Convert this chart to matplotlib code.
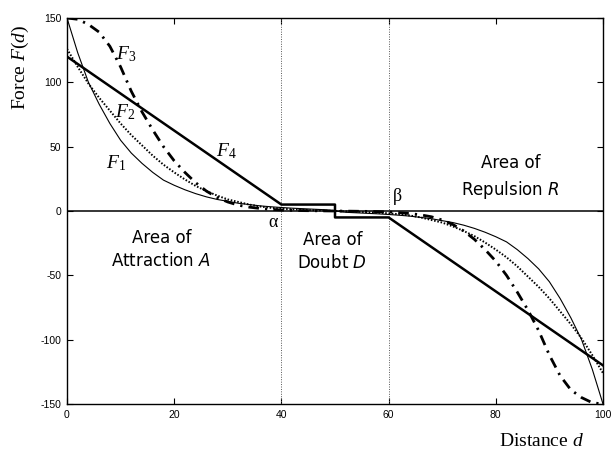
import matplotlib
matplotlib.use("Agg")
import matplotlib.pyplot as plt

plt.rcParams['mathtext.fontset'] = 'custom'
plt.rcParams['mathtext.rm'] = 'Liberation Serif'
plt.rcParams['mathtext.it'] = 'Liberation Serif:italic'
plt.rcParams['mathtext.sf'] = 'DejaVu Sans:italic'
plt.rcParams['axes.unicode_minus'] = False

# distance grid (read every 2 units)
d = [0, 2, 4, 6, 8, 10, 12, 14, 16, 18, 20, 22, 24, 26, 28, 30, 32, 34, 36, 38, 40,
     42, 44, 46, 48, 50, 52, 54, 56, 58, 60, 62, 64, 66, 68, 70, 72, 74, 76, 78, 80,
     82, 84, 86, 88, 90, 92, 94, 96, 98, 100]

F1 = [150, 123, 100, 83, 68, 55, 45, 37, 30, 24, 20, 16.5, 13.5, 11, 9, 7.5, 6, 5, 4, 3.3, 2.7,
      2.2, 1.8, 1.4, 1, 0, -1, -1.4, -1.8, -2.2, -2.7, -3.3, -4, -5, -6, -7.5, -9, -11, -13.5,
      -16.5, -20, -24, -30, -37, -45, -55, -68, -83, -100, -123, -150]
F2 = [126, 112, 99, 88, 78, 68, 59, 51, 43, 36, 30, 24.5, 19.5, 15.5, 12, 9, 7, 5, 3.5, 2.5, 1.8,
      1.3, 0.9, 0.6, 0.3, 0, -0.3, -0.6, -0.9, -1.3, -1.8, -2.5, -3.5, -5, -7, -9, -12, -15.5,
      -19.5, -24.5, -30, -36, -43, -51, -59, -68, -78, -88, -99, -112, -126]
F3 = [150, 149, 145, 139, 128, 112, 93, 77, 63, 50, 39, 30, 22, 15.5, 10.5, 7, 4.5, 3, 2, 1.3, 0.8,
      0.5, 0.3, 0.2, 0.1, 0, -0.1, -0.2, -0.3, -0.5, -0.8, -1.3, -2, -3, -4.5, -7, -10.5, -15.5,
      -22, -30, -39, -50, -63, -77, -93, -112, -128, -139, -145, -149, -150]

# piecewise-linear F4 with the step in the area of doubt
F4_d = [0, 40, 40, 50, 50, 60, 60, 100]
F4_v = [120, 5, 5, 5, -5, -5, -5, -120]

alpha_d = 40
beta_d = 60

fig = plt.figure(figsize=(6.12, 4.5), dpi=100)
ax = fig.add_axes([67/612, 1-404/450, (603-67)/612, (404-18)/450])

ax.axvline(alpha_d, color='#555555', lw=0.7, linestyle=(0, (1, 1.5)))
ax.axvline(beta_d, color='#555555', lw=0.7, linestyle=(0, (1, 1.5)))
ax.axhline(0, color='black', lw=1.1)

ax.plot(d, F1, color='black', lw=0.8)
ax.plot(d, F2, color='black', lw=1.4, linestyle=(0, (0.8, 0.9)))
ax.plot(d, F3, color='black', lw=2.0, linestyle=(0, (3.8, 2.2, 0.8, 2.2)))
ax.plot(F4_d, F4_v, color='black', lw=1.8)

ax.set_xlim(0, 100)
ax.set_ylim(-150, 150)
ax.set_xticks([0, 20, 40, 60, 80, 100])
ax.set_yticks([-150, -100, -50, 0, 50, 100, 150])
ax.tick_params(direction='in', length=4, width=0.8, top=True, right=True,
               labelsize=7.5, pad=4)
for lab in ax.get_xticklabels() + ax.get_yticklabels():
    lab.set_fontfamily('Liberation Sans')
for s in ax.spines.values():
    s.set_linewidth(1.0)

serif = 'Liberation Serif'
fs_lab = 14
ax.text(11.1, 121.8, '$F_3$', fontsize=fs_lab, ha='center', va='center')
ax.text(10.8, 77, '$F_2$', fontsize=fs_lab, ha='center', va='center')
ax.text(9.2, 37.5, '$F_1$', fontsize=fs_lab, ha='center', va='center')
ax.text(29.8, 46.5, '$F_4$', fontsize=fs_lab, ha='center', va='center')

ax.text(38.4, -9, 'α', family=serif, fontsize=13, ha='center', va='center')
ax.text(61.6, 11.5, 'β', family=serif, fontsize=13, ha='center', va='center')

sans = 'DejaVu Sans'
ax.text(17.6, -30, 'Area of\nAttraction $\\mathsf{A}$', family=sans, fontsize=12,
        ha='center', va='center', linespacing=1.4)
ax.text(49.5, -31.5, 'Area of\nDoubt $\\mathsf{D}$', family=sans, fontsize=12,
        ha='center', va='center', linespacing=1.4)
ax.text(82.8, 26, 'Area of\nRepulsion $\\mathsf{R}$', family=sans, fontsize=12,
        ha='center', va='center', linespacing=1.4)

fig.text(541/612, 1-442/450, 'Distance $d$', family=serif, fontsize=14,
         ha='center', va='center')
fig.text(20/612, 1-67/450, 'Force $F$($d$)', family=serif, fontsize=14,
         ha='center', va='center', rotation=90)

fig.savefig('out.png', dpi=100)
